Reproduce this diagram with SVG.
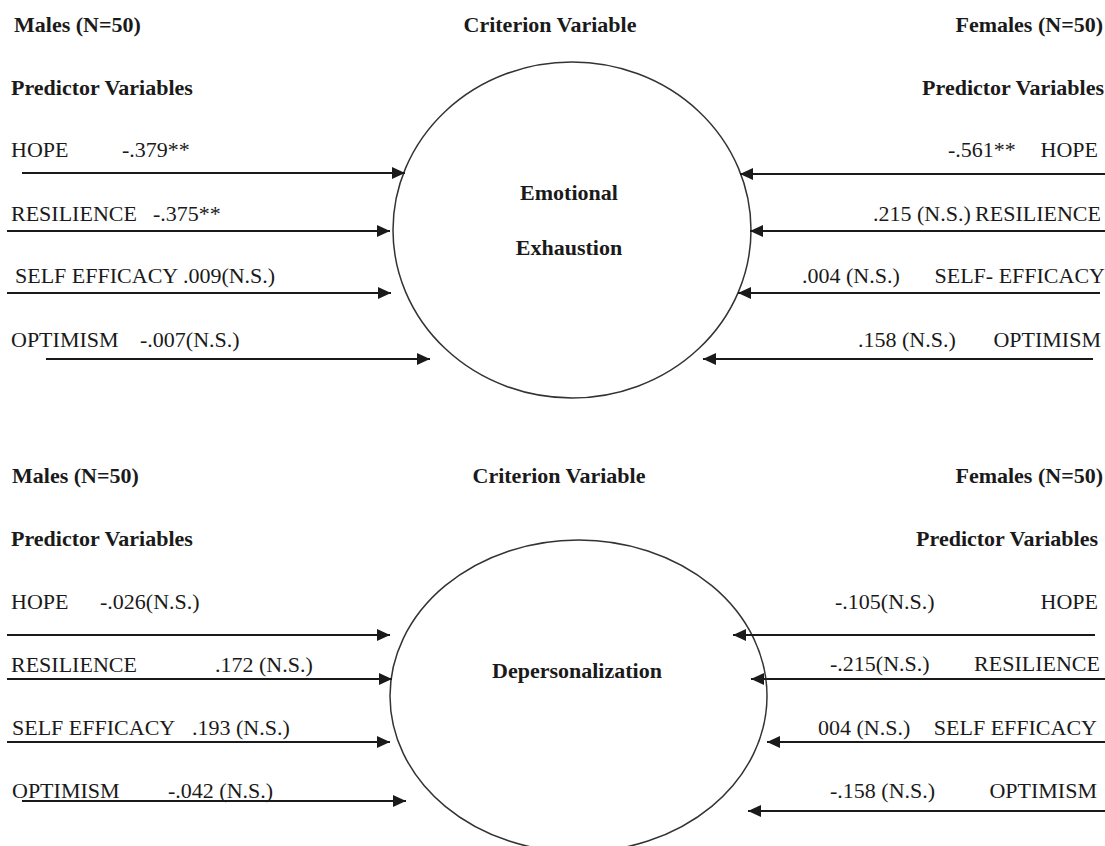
<svg xmlns="http://www.w3.org/2000/svg" width="1105" height="846" viewBox="0 0 1105 846">
<style>
text{font-family:"Liberation Serif","Times New Roman",serif;font-size:22px;fill:#1a1a1a}
.b{font-weight:bold}
.e{text-anchor:end}
.m{text-anchor:middle}
.c{fill:#fff;stroke:#333;stroke-width:1.5}
.a{stroke:#1a1a1a;stroke-width:1.8;fill:none;marker-end:url(#ah)}
</style>
<defs>
<marker id="ah" markerUnits="userSpaceOnUse" markerWidth="14" markerHeight="12" refX="13" refY="6" orient="auto">
<path d="M0,0 L13,6 L0,12 Z" fill="#1a1a1a"/>
</marker>
</defs>
<rect width="1105" height="846" fill="#fff"/>

<g id="headers-top">
<text class="b" x="14" y="32">Males (N=50)</text>
<text class="b m" x="550" y="32">Criterion Variable</text>
<text class="b e" x="1103" y="32">Females (N=50)</text>
<text class="b" x="11" y="95">Predictor Variables</text>
<text class="b e" x="1104" y="95">Predictor Variables</text>
</g>

<g id="node-emotional-exhaustion">
<ellipse class="c" cx="572" cy="230" rx="179" ry="168"/>
<text class="b m" x="569" y="200">Emotional</text>
<text class="b m" x="569" y="255">Exhaustion</text>
</g>

<g id="predictors-males-top">
<text x="11" y="157">HOPE</text><text x="122" y="157">-.379**</text>
<text x="11" y="221">RESILIENCE</text><text x="153" y="221">-.375**</text>
<text x="15" y="283">SELF EFFICACY .009(N.S.)</text>
<text x="11" y="347">OPTIMISM</text><text x="140" y="347">-.007(N.S.)</text>
</g>

<g id="predictors-females-top">
<text x="948" y="157">-.561**</text><text class="e" x="1098" y="157">HOPE</text>
<text x="873" y="221">.215 (N.S.)</text><text class="e" x="1101" y="221">RESILIENCE</text>
<text x="802" y="283">.004 (N.S.)</text><text class="e" x="1105" y="283">SELF- EFFICACY</text>
<text x="858" y="347">.158 (N.S.)</text><text class="e" x="1101" y="347">OPTIMISM</text>
</g>

<g id="headers-bottom">
<text class="b" x="12" y="483">Males (N=50)</text>
<text class="b m" x="559" y="483">Criterion Variable</text>
<text class="b e" x="1103" y="483">Females (N=50)</text>
<text class="b" x="11" y="546">Predictor Variables</text>
<text class="b e" x="1098" y="546">Predictor Variables</text>
</g>

<g id="node-depersonalization">
<ellipse class="c" cx="578.5" cy="696" rx="188.5" ry="156"/>
<text class="b m" x="577" y="678">Depersonalization</text>
</g>

<g id="predictors-males-bottom">
<text x="11" y="609">HOPE</text><text x="100" y="609">-.026(N.S.)</text>
<text x="11" y="672">RESILIENCE</text><text x="215" y="672">.172 (N.S.)</text>
<text x="12" y="735">SELF EFFICACY</text><text x="192" y="735">.193 (N.S.)</text>
<text x="12" y="798">OPTIMISM</text><text x="168" y="798">-.042 (N.S.)</text>
</g>

<g id="predictors-females-bottom">
<text x="835" y="609">-.105(N.S.)</text><text class="e" x="1098" y="609">HOPE</text>
<text x="830" y="671">-.215(N.S.)</text><text class="e" x="1100" y="671">RESILIENCE</text>
<text x="818" y="735">004 (N.S.)</text><text class="e" x="1097" y="735">SELF EFFICACY</text>
<text x="830" y="798">-.158 (N.S.)</text><text class="e" x="1097" y="798">OPTIMISM</text>
</g>

<g id="connectors">
<line class="a" x1="22" y1="173" x2="405" y2="173"/>
<line class="a" x1="7" y1="231" x2="390" y2="231"/>
<line class="a" x1="7" y1="293" x2="391" y2="293"/>
<line class="a" x1="46" y1="359" x2="430" y2="359"/>
<line class="a" x1="1105" y1="174" x2="740" y2="174"/>
<line class="a" x1="1105" y1="231" x2="750" y2="231"/>
<line class="a" x1="1100" y1="293" x2="738" y2="293"/>
<line class="a" x1="1093" y1="359" x2="703" y2="359"/>
<line class="a" x1="7" y1="635" x2="390" y2="635"/>
<line class="a" x1="7" y1="679" x2="392" y2="679"/>
<line class="a" x1="7" y1="742" x2="390" y2="742"/>
<line class="a" x1="22" y1="801" x2="406" y2="801"/>
<line class="a" x1="1095" y1="635" x2="733" y2="635"/>
<line class="a" x1="1105" y1="679" x2="751" y2="679"/>
<line class="a" x1="1105" y1="742" x2="767" y2="742"/>
<line class="a" x1="1105" y1="811" x2="748" y2="811"/>
</g>
</svg>
